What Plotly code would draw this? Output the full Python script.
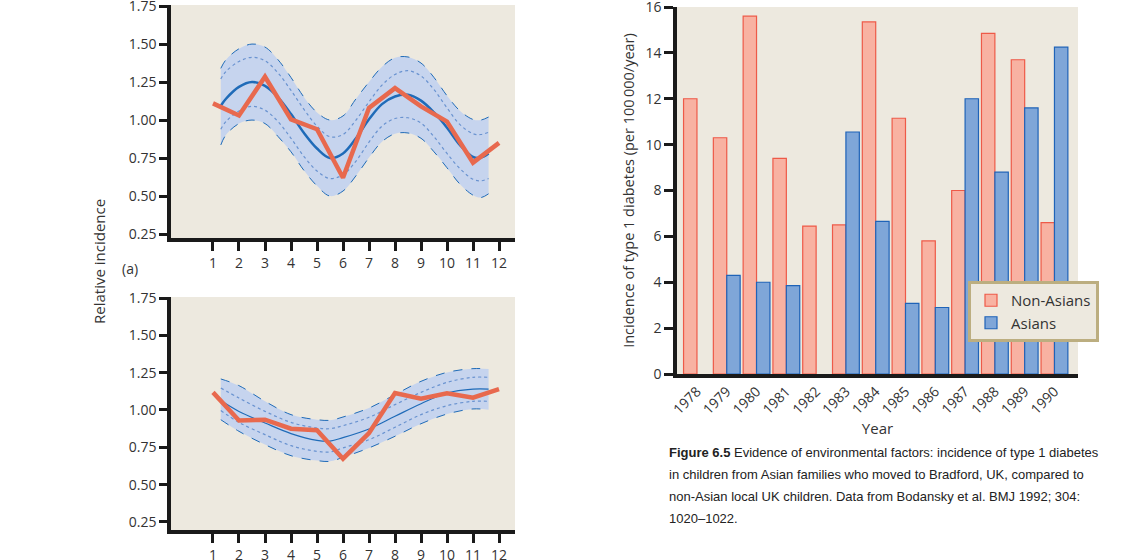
import plotly.graph_objects as go

# ---- panel (a) top: monthly relative incidence ----
months = list(range(1, 13))
top_observed = [1.11, 1.03, 1.285, 1.005, 0.94, 0.62, 1.08, 1.21, 1.09, 0.99, 0.72, 0.85]

fit_x = [1.3, 1.5, 2, 2.5, 3, 3.5, 4, 4.5, 5, 5.5, 6, 6.5, 7, 7.5, 8, 8.5, 9, 9.5, 10, 10.5, 11, 11.3, 11.6]
top_fit = [1.094, 1.14, 1.218, 1.25, 1.225, 1.15, 1.04, 0.915, 0.813, 0.75, 0.78, 0.88,
           1.005, 1.105, 1.155, 1.166, 1.128, 1.05, 0.95, 0.835, 0.757, 0.753, 0.78]
top_upper95 = [1.34, 1.397, 1.469, 1.50, 1.48, 1.397, 1.28, 1.15, 1.05, 1.0, 1.027, 1.14,
               1.25, 1.35, 1.41, 1.415, 1.375, 1.28, 1.16, 1.06, 1.004, 1.0, 1.02]
top_lower95 = [0.836, 0.903, 0.977, 1.0, 0.977, 0.892, 0.791, 0.668, 0.567, 0.50, 0.533, 0.634,
               0.753, 0.858, 0.91, 0.915, 0.88, 0.791, 0.686, 0.578, 0.506, 0.49, 0.515]
top_upper68 = [1.27, 1.32, 1.385, 1.413, 1.39, 1.31, 1.195, 1.07, 0.96, 0.89, 0.905, 1.0,
               1.12, 1.23, 1.30, 1.325, 1.29, 1.20, 1.08, 0.97, 0.91, 0.905, 0.92]
top_lower68 = [0.94, 0.99, 1.06, 1.09, 1.065, 0.99, 0.88, 0.76, 0.665, 0.615, 0.64, 0.73,
               0.855, 0.96, 1.01, 1.015, 0.98, 0.89, 0.78, 0.68, 0.61, 0.60, 0.615]

# ---- panel (a) bottom ----
bot_observed = [1.118, 0.929, 0.935, 0.875, 0.864, 0.674, 0.846, 1.114, 1.076, 1.112, 1.083, 1.14]
bot_fit_x = [1.3, 2, 3, 4, 5, 5.5, 6, 7, 8, 9, 10, 11, 11.6]
bot_fit = [1.063, 0.99, 0.913, 0.842, 0.797, 0.792, 0.815, 0.873, 0.958, 1.042, 1.114, 1.14, 1.14]
bot_upper95 = [1.208, 1.163, 1.058, 0.969, 0.935, 0.931, 0.953, 1.013, 1.103, 1.192, 1.252, 1.277, 1.275]
bot_lower95 = [0.935, 0.857, 0.768, 0.694, 0.661, 0.656, 0.683, 0.746, 0.824, 0.908, 0.973, 1.007, 1.002]
bot_upper68 = [1.147, 1.08, 0.991, 0.917, 0.879, 0.875, 0.895, 0.951, 1.036, 1.118, 1.185, 1.219, 1.219]
bot_lower68 = [0.996, 0.917, 0.835, 0.761, 0.723, 0.719, 0.746, 0.801, 0.884, 0.969, 1.029, 1.058, 1.058]

rel_ticks = [0.25, 0.5, 0.75, 1.0, 1.25, 1.5, 1.75]
rel_labels = ["0.25", "0.50", "0.75", "1.00", "1.25", "1.50", "1.75"]

# ---- Bradford incidence bars ----
years = list(range(1978, 1991))
year_labels = [str(y) for y in years]
non_asians = [12.0, 10.3, 15.6, 9.4, 6.45, 6.5, 15.35, 11.15, 5.8, 8.0, 14.85, 13.7, 6.6]
asians = [None, 4.3, 4.0, 3.85, None, 10.55, 6.65, 3.08, 2.9, 12.0, 8.8, 11.6, 14.25]

caption_lines = [
    "<b>Figure 6.5</b> Evidence of environmental factors: incidence of type 1 diabetes",
    "in children from Asian families who moved to Bradford, UK, compared to",
    "non-Asian local UK children. Data from Bodansky et al. BMJ 1992; 304:",
    "1020\u20131022.",
]

BEIGE = "#ede9df"
BAND = "#c6d4ee"
BLUE = "#1f6bb8"
DOTBLUE = "#6a93d0"
RED = "#e8694e"
AXIS = "#1a1a1a"
TXT = "#333333"
FONT = "Open Sans"
W, H = 1136, 560

fig = go.Figure()


def add_panel(xa, ya, fx, fit, up95, lo95, up68, lo68, obs, fit_width):
    fig.add_trace(go.Scatter(x=fx, y=lo95, xaxis=xa, yaxis=ya, mode="lines",
                             line=dict(color=BLUE, width=1, dash="dash", shape="spline"),
                             showlegend=False, hoverinfo="skip"))
    fig.add_trace(go.Scatter(x=fx, y=up95, xaxis=xa, yaxis=ya, mode="lines",
                             line=dict(color=BLUE, width=1, dash="dash", shape="spline"),
                             fill="tonexty", fillcolor=BAND,
                             showlegend=False, hoverinfo="skip"))
    for band in (up68, lo68):
        fig.add_trace(go.Scatter(x=fx, y=band, xaxis=xa, yaxis=ya, mode="lines",
                                 line=dict(color=DOTBLUE, width=1.2, dash="dot", shape="spline"),
                                 showlegend=False, hoverinfo="skip"))
    fig.add_trace(go.Scatter(x=fx, y=fit, xaxis=xa, yaxis=ya, mode="lines",
                             line=dict(color=BLUE, width=fit_width, shape="spline"),
                             showlegend=False))
    fig.add_trace(go.Scatter(x=months, y=obs, xaxis=xa, yaxis=ya, mode="lines",
                             line=dict(color=RED, width=4.5),
                             showlegend=False))


add_panel("x", "y", fit_x, top_fit, top_upper95, top_lower95, top_upper68, top_lower68,
          top_observed, 2.5)
add_panel("x2", "y2", bot_fit_x, bot_fit, bot_upper95, bot_lower95, bot_upper68, bot_lower68,
          bot_observed, 1.2)

fig.add_trace(go.Bar(x=years, y=non_asians, name="Non-Asians", xaxis="x3", yaxis="y3",
                     marker=dict(color="#f8b2a2", line=dict(color="#ee5a48", width=1.2))))
fig.add_trace(go.Bar(x=years, y=asians, name="Asians", xaxis="x3", yaxis="y3",
                     marker=dict(color="#7fa6d8", line=dict(color="#1f63b8", width=1.2))))

tick_font = dict(family=FONT, size=14, color=TXT)
common = dict(showline=True, linewidth=3.5, linecolor=AXIS, showgrid=False, zeroline=False,
              tickfont=tick_font, automargin=False, ticklabeloverflow="allow",
              tickcolor=AXIS, tickwidth=3)
left_x = dict(common, range=[-0.615, 12.615], tickvals=months, ticks="outside", ticklen=9,
              domain=[171 / W, 515 / W])
left_y = dict(common, tickvals=rel_ticks, ticktext=rel_labels, ticks="outside", ticklen=8)

fig.update_layout(
    width=W, height=H,
    margin=dict(l=0, r=0, t=0, b=0),
    paper_bgcolor="white", plot_bgcolor=BEIGE,
    font=dict(family=FONT, color=TXT),
    barmode="group", bargap=0.1, bargroupgap=0,
    xaxis=dict(left_x, anchor="y"),
    yaxis=dict(left_y, range=[0.224, 1.757], domain=[1 - 238 / H, 1 - 5 / H], anchor="x"),
    xaxis2=dict(left_x, anchor="y2"),
    yaxis2=dict(left_y, range=[0.196, 1.757], domain=[1 - 530 / H, 1 - 297 / H], anchor="x2"),
    xaxis3=dict(common, range=[1977.33, 1990.79], tickvals=years, ticktext=year_labels,
                tickangle=-45, ticks="", domain=[677 / W, 1078 / W], anchor="y3",
                title=dict(text="Year", font=dict(family=FONT, size=15, color=TXT), standoff=5)),
    yaxis3=dict(common, range=[0, 16], tickvals=list(range(0, 17, 2)), ticks="outside",
                ticklen=9, domain=[1 - 374 / H, 1 - 7 / H], anchor="x3",
                title=dict(text="Incidence of type 1 diabetes (per 100\u2009000/year)",
                           font=dict(family=FONT, size=14.5, color=TXT), standoff=8)),
    legend=dict(x=968 / W, y=1 - 281 / H, xanchor="left", yanchor="top",
                bgcolor=BEIGE, bordercolor="#bcae80", borderwidth=3, traceorder="normal",
                font=dict(family=FONT, size=15, color=TXT), tracegroupgap=0),
)

fig.add_annotation(x=99 / W, y=1 - 262 / H, xref="paper", yref="paper",
                   xanchor="center", yanchor="middle",
                   text="Relative incidence", textangle=-90, showarrow=False,
                   font=dict(family=FONT, size=15, color=TXT))
fig.add_annotation(x=130 / W, y=1 - 268 / H, xref="paper", yref="paper",
                   xanchor="center", yanchor="middle", text="(a)",
                   showarrow=False, font=dict(family=FONT, size=14, color=TXT))

for i, line in enumerate(caption_lines):
    fig.add_annotation(x=667 / W, y=1 - (452 + 22 * i) / H, xref="paper", yref="paper",
                       xanchor="left", yanchor="middle", text=line, showarrow=False,
                       font=dict(family="Liberation Sans", size=13, color="#222222"))

# drop the page's default body margin so the figure sits at the window's top-left
fig.write_html("out.html", config={"displayModeBar": False},
               post_script="document.body.style.margin='0';")
